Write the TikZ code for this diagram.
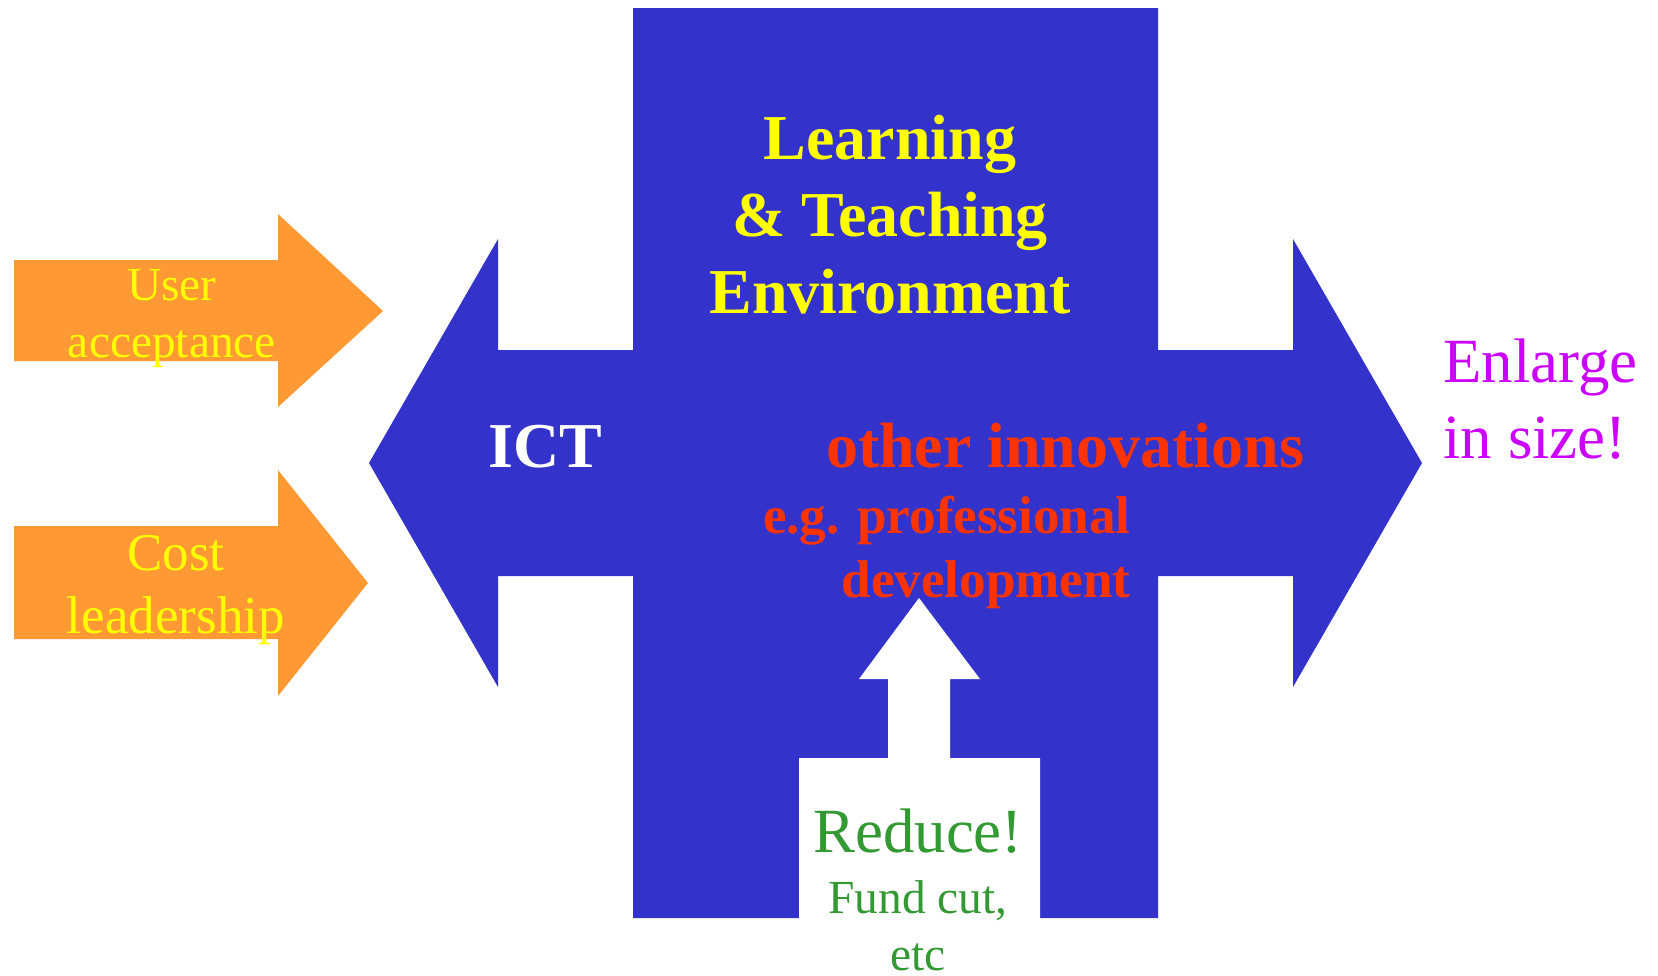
\documentclass[tikz,border=0pt]{standalone}
\usepackage{fontspec}
\setmainfont{Liberation Serif}
\usetikzlibrary{positioning}
\definecolor{crossblue}{RGB}{51,51,204}
\definecolor{pushorange}{RGB}{255,153,51}
\definecolor{labelyellow}{RGB}{255,255,0}
\definecolor{innored}{RGB}{255,51,0}
\definecolor{cutgreen}{RGB}{51,153,51}
\definecolor{growmagenta}{RGB}{204,0,255}
\newcommand{\fsz}[2]{\fontsize{#1}{#2}\selectfont}

\begin{document}
\begin{tikzpicture}[x=0.02cm,y=-0.02cm,
txt/.style={inner sep=0pt,align=center,anchor=base}]
\useasboundingbox (0,0) rectangle (1658,975);

% the blue cross with two heads
\fill[crossblue] (633,8) -- (1158,8) -- (1158,350) -- (1293,350) -- (1293,239)
  -- (1422,463) -- (1293,687) -- (1293,576) -- (1158,576) -- (1158,918)
  -- (633,918) -- (633,576) -- (498,576) -- (498,687) -- (369,463)
  -- (498,239) -- (498,350) -- (633,350) -- cycle;

% white arrow pushing up from below
\fill[white] (799,975) -- (799,758) -- (888,758) -- (888,679) -- (859,679)
  -- (919,598) -- (980,679) -- (950,679) -- (950,758) -- (1040,758)
  -- (1040,975) -- cycle;

% orange arrows on the left
\fill[pushorange] (14,260) -- (278,260) -- (278,214) -- (383,311) -- (278,407)
  -- (278,361) -- (14,361) -- cycle;
\fill[pushorange] (14,526) -- (278,526) -- (278,470) -- (368,583) -- (278,696)
  -- (278,639) -- (14,639) -- cycle;

% texts (multi-line nodes sit on the baseline of their last line)
\node[txt,text=labelyellow,font=\fsz{27}{32.4}] (user) at (172,357) {User\\acceptance};
\node[txt,text=labelyellow,font=\fsz{30.2}{35.8}] (cost) at (176,633) {Cost\\leadership};
\node[txt,text=labelyellow,font=\fsz{36.4}{43.8}\bfseries] (env) at (890,313) {Learning\\\& Teaching\\Environment};
\node[txt,text=white,font=\fsz{36.4}{43.8}\bfseries] (ict) at (545,467) {ICT};
\node[txt,text=innored,font=\fsz{36.4}{43.8}\bfseries] (other) at (1065,467) {other innovations};
\node[txt,text=innored,font=\fsz{30.2}{36.4}\bfseries,align=right,anchor=base east] (prof) at (1131,597) {e.g. professional\\development};
\node[txt,text=cutgreen,font=\fsz{35.8}{43}] (reduce) at (918,852) {Reduce!};
\node[txt,text=cutgreen,font=\fsz{27}{32.4}] (fund) at (918,970) {Fund cut,\\etc};
\node[txt,text=growmagenta,font=\fsz{35.8}{43.2},align=left,anchor=base west] (enlarge) at (1443,458) {Enlarge\\in size!};
\end{tikzpicture}
\end{document}
